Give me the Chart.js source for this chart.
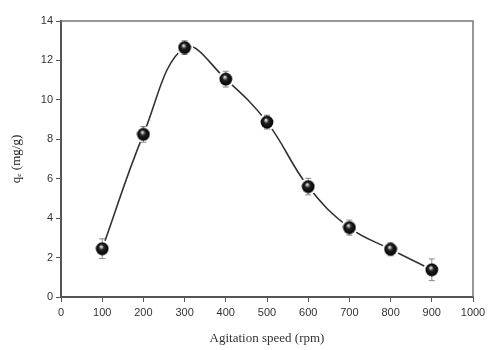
<!DOCTYPE html>
<html lang="en">
<head>
  <meta charset="UTF-8">
  <title>Agitation speed</title>
  <script src="https://cdn.jsdelivr.net/npm/chart.js"></script>
  <style>
    body { margin: 0; background: #fff; }
    #wrap { width: 496px; height: 350px; }
  </style>
</head>
<body>
  <div id="wrap"><canvas id="grafico"></canvas></div>
  <script>
    // agitation speed (rpm)
    const speeds = [100, 200, 300, 400, 500, 600, 700, 800, 900];
    // qe (mg/g)
    const qe = [2.45, 8.25, 12.65, 11.05, 8.87, 5.6, 3.52, 2.42, 1.38];
    const qeErr = [0.5, 0.4, 0.35, 0.4, 0.35, 0.42, 0.38, 0.33, 0.55];

    const xTicks = [0, 100, 200, 300, 400, 500, 600, 700, 800, 900, 1000];
    const yTicks = [0, 2, 4, 6, 8, 10, 12, 14];

    // black glossy sphere marker
    function sphere() {
      const c = document.createElement('canvas');
      c.width = 14; c.height = 14;
      const g = c.getContext('2d');
      const grad = g.createRadialGradient(5.8, 4.6, 0, 7, 7, 6.6);
      grad.addColorStop(0, '#ffffff');
      grad.addColorStop(0.15, '#bbb');
      grad.addColorStop(0.4, '#222');
      grad.addColorStop(1, '#000');
      g.fillStyle = grad;
      g.beginPath(); g.arc(7, 7, 6.4, 0, Math.PI * 2); g.fill();
      return c;
    }

    const errorBars = {
      id: 'errorBars',
      beforeDatasetsDraw(chart) {
        // top and right frame lines
        const a = chart.chartArea, ctx = chart.ctx;
        ctx.save();
        ctx.strokeStyle = '#777';
        ctx.lineWidth = 1.5;
        ctx.beginPath();
        ctx.moveTo(a.left, a.top); ctx.lineTo(a.right, a.top); ctx.lineTo(a.right, a.bottom);
        ctx.stroke();
        ctx.restore();
      },
      afterDatasetDraw(chart, args) {
        if (args.index !== 0) return;
        const x = chart.scales.x, y = chart.scales.y, ctx = chart.ctx;
        ctx.save();
        speeds.forEach((s, i) => {
          const px = x.getPixelForValue(s);
          const py = y.getPixelForValue(qe[i]);
          // white gap where the curve meets the marker
          ctx.fillStyle = '#fff';
          ctx.beginPath(); ctx.arc(px, py, 8.5, 0, Math.PI * 2); ctx.fill();
          const top = y.getPixelForValue(qe[i] + qeErr[i]);
          const bot = y.getPixelForValue(qe[i] - qeErr[i]);
          ctx.strokeStyle = '#8a8a8a';
          ctx.lineWidth = 1;
          ctx.beginPath();
          ctx.moveTo(px, top); ctx.lineTo(px, bot);
          ctx.moveTo(px - 3, top); ctx.lineTo(px + 3, top);
          ctx.moveTo(px - 3, bot); ctx.lineTo(px + 3, bot);
          ctx.stroke();
        });
        ctx.restore();
      }
    };

    const pts = speeds.map((s, i) => ({ x: s, y: qe[i] }));

    new Chart(document.getElementById('grafico'), {
      type: 'line',
      data: {
        datasets: [{
          data: pts,
          borderColor: '#333',
          borderWidth: 1.6,
          tension: 0.4,
          pointRadius: 0,
          fill: false,
          order: 2
        }, {
          data: pts,
          showLine: false,
          pointStyle: sphere(),
          pointRadius: 7,
          order: 1
        }]
      },
      options: {
        responsive: true,
        maintainAspectRatio: false,
        animation: false,
        layout: { padding: { top: 21, right: 23, left: 0, bottom: 0 } },
        plugins: { legend: { display: false }, tooltip: { enabled: false } },
        scales: {
          x: {
            type: 'linear', min: 0, max: 1000,
            afterBuildTicks: s => { s.ticks = xTicks.map(v => ({ value: v })); },
            afterFit: s => { s.height = 53; },
            grid: { drawOnChartArea: false, drawTicks: true, tickLength: 5, color: '#555' },
            border: { color: '#555', width: 2 },
            ticks: { color: '#333', font: { family: 'Liberation Sans', size: 11 }, padding: 4,
              maxRotation: 0, callback: v => String(v) },
            title: { display: true, text: 'Agitation speed (rpm)', color: '#333',
              font: { family: 'Liberation Serif', size: 13 }, padding: { top: 10 } }
          },
          y: {
            min: 0, max: 14,
            afterBuildTicks: s => { s.ticks = yTicks.map(v => ({ value: v })); },
            afterFit: s => { s.width = 61; },
            grid: { drawOnChartArea: false, drawTicks: true, tickLength: 5, color: '#555' },
            border: { color: '#555', width: 2 },
            ticks: { color: '#333', font: { family: 'Liberation Sans', size: 11 }, padding: 3 },
            title: { display: true, text: 'q\u2091 (mg/g)', color: '#222',
              font: { family: 'Liberation Serif', size: 13 }, padding: { top: 9, bottom: 0 } }
          }
        }
      },
      plugins: [errorBars]
    });
  </script>
</body>
</html>
